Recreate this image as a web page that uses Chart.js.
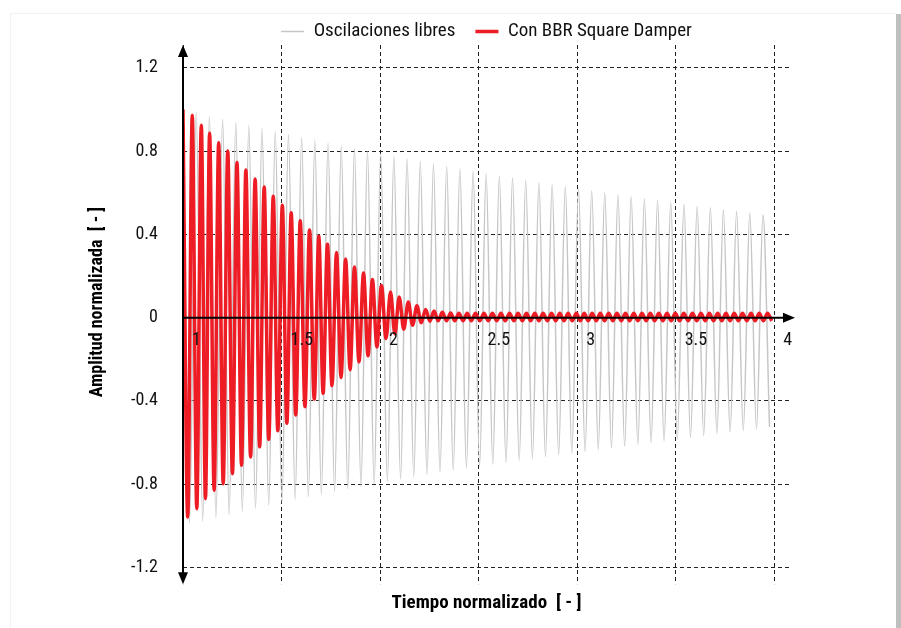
<!DOCTYPE html>
<html>
<head>
<meta charset="utf-8">
<script src="https://cdn.jsdelivr.net/npm/chart.js@4.4.0/dist/chart.umd.min.js"></script>
<style>
html, body { margin: 0; padding: 0; background: #fff; }
#wrap { position: relative; width: 901px; height: 628px; overflow: hidden; }
#frame { position: absolute; left: 10px; top: 13px; width: 885px; height: 640px; border-top: 1px solid #f2f2f2; border-left: 1px solid #f2f2f2; }
#shadow { position: absolute; left: 896px; top: 14px; width: 5px; height: 614px; background: #bfbfbf; }
canvas { position: absolute; left: 0; top: 0; }
</style>
</head>
<body>
<div id="wrap">
  <div id="frame"></div>
  <canvas id="chart" width="901" height="628"></canvas>
  <div id="shadow"></div>
</div>
<script>
// axis ticks
var xTicks = [1, 1.5, 2, 2.5, 3, 3.5, 4];
var yTicks = [-1.2, -0.8, -0.4, 0, 0.4, 0.8, 1.2];

// free oscillation: extremes (peak, trough, peak, ...)
var freeT = [1.000, 1.033, 1.067, 1.100, 1.134, 1.167, 1.201, 1.234, 1.268, 1.301,
  1.334, 1.368, 1.401, 1.435, 1.468, 1.502, 1.535, 1.569, 1.602, 1.636,
  1.669, 1.702, 1.736, 1.769, 1.803, 1.836, 1.870, 1.903, 1.936, 1.970,
  2.003, 2.037, 2.070, 2.104, 2.137, 2.171, 2.204, 2.238, 2.271, 2.304,
  2.338, 2.371, 2.405, 2.438, 2.472, 2.505, 2.538, 2.572, 2.605, 2.639,
  2.672, 2.706, 2.739, 2.773, 2.806, 2.839, 2.873, 2.906, 2.940, 2.973,
  3.007, 3.040, 3.074, 3.107, 3.140, 3.174, 3.207, 3.241, 3.274, 3.308,
  3.341, 3.375, 3.408, 3.441, 3.475, 3.508, 3.542, 3.575, 3.609, 3.642,
  3.676, 3.709, 3.742, 3.776, 3.809, 3.843, 3.876, 3.910, 3.943, 3.976];
var freeA = [1.000, -0.985, 0.984, -0.976, 0.968, -0.961, 0.953, -0.946, 0.938, -0.931,
  0.923, -0.916, 0.909, -0.901, 0.894, -0.887, 0.880, -0.873, 0.866, -0.860,
  0.852, -0.848, 0.839, -0.835, 0.825, -0.822, 0.812, -0.810, 0.799, -0.798,
  0.787, -0.786, 0.774, -0.775, 0.762, -0.764, 0.750, -0.753, 0.738, -0.742,
  0.726, -0.732, 0.715, -0.722, 0.703, -0.712, 0.692, -0.703, 0.681, -0.694,
  0.671, -0.685, 0.660, -0.676, 0.649, -0.667, 0.639, -0.658, 0.629, -0.650,
  0.619, -0.642, 0.609, -0.634, 0.600, -0.625, 0.590, -0.617, 0.581, -0.608,
  0.572, -0.600, 0.563, -0.591, 0.554, -0.582, 0.545, -0.573, 0.536, -0.565,
  0.528, -0.557, 0.519, -0.549, 0.511, -0.541, 0.503, -0.533, 0.495, -0.525];

// with damper: peaks and troughs
var dampPeakT = [1.000, 1.047, 1.093, 1.135, 1.181, 1.227, 1.274, 1.319, 1.366, 1.412,
  1.458, 1.504, 1.549, 1.595, 1.642, 1.689, 1.733, 1.779, 1.825, 1.870,
  1.916, 1.961, 2.007, 2.053, 2.097, 2.143, 2.187, 2.231, 2.274, 2.316,
  2.358, 2.400, 2.442, 2.484, 2.527, 2.570, 2.613, 2.657, 2.700, 2.743,
  2.785, 2.827, 2.870, 2.912, 2.954, 2.996, 3.036, 3.076, 3.117, 3.160,
  3.202, 3.245, 3.287, 3.329, 3.371, 3.414, 3.456, 3.498, 3.541, 3.585,
  3.628, 3.671, 3.713, 3.755, 3.797, 3.839, 3.882, 3.924, 3.966];
var dampPeakA = [1.000, 0.972, 0.925, 0.886, 0.841, 0.801, 0.745, 0.709, 0.666, 0.628,
  0.584, 0.540, 0.504, 0.466, 0.421, 0.391, 0.353, 0.313, 0.282, 0.244,
  0.215, 0.184, 0.155, 0.123, 0.099, 0.075, 0.057, 0.040, 0.032, 0.026,
  0.023, 0.022, 0.022, 0.022, 0.022, 0.022, 0.022, 0.022, 0.022, 0.022,
  0.022, 0.022, 0.022, 0.022, 0.022, 0.022, 0.022, 0.022, 0.022, 0.022,
  0.022, 0.022, 0.022, 0.022, 0.022, 0.022, 0.022, 0.022, 0.022, 0.022,
  0.022, 0.022, 0.022, 0.022, 0.022, 0.022, 0.022, 0.022, 0.022];
var dampTroughT = [1.024, 1.070, 1.114, 1.158, 1.204, 1.251, 1.297, 1.343, 1.389, 1.435,
  1.481, 1.527, 1.572, 1.619, 1.666, 1.711, 1.756, 1.802, 1.848, 1.893,
  1.939, 1.984, 2.030, 2.075, 2.120, 2.165, 2.209, 2.253, 2.295, 2.337,
  2.379, 2.421, 2.463, 2.506, 2.549, 2.592, 2.635, 2.679, 2.722, 2.764,
  2.806, 2.849, 2.891, 2.933, 2.975, 3.016, 3.056, 3.097, 3.139, 3.181,
  3.224, 3.266, 3.308, 3.350, 3.393, 3.435, 3.477, 3.520, 3.563, 3.607,
  3.650, 3.692, 3.734, 3.776, 3.818, 3.861, 3.903, 3.945, 3.987];
var dampTroughA = [-0.957, -0.917, -0.869, -0.829, -0.797, -0.749, -0.709, -0.669, -0.620, -0.585,
  -0.543, -0.507, -0.467, -0.427, -0.391, -0.363, -0.326, -0.287, -0.250, -0.213,
  -0.183, -0.140, -0.100, -0.078, -0.055, -0.036, -0.024, -0.017, -0.015, -0.015,
  -0.015, -0.015, -0.015, -0.015, -0.015, -0.015, -0.015, -0.015, -0.015, -0.015,
  -0.015, -0.015, -0.015, -0.015, -0.015, -0.015, -0.015, -0.015, -0.015, -0.015,
  -0.015, -0.015, -0.015, -0.015, -0.015, -0.015, -0.015, -0.015, -0.015, -0.015,
  -0.015, -0.015, -0.015, -0.015, -0.015, -0.015, -0.015, -0.015, -0.015];

var freeData = freeT.map(function (t, i) { return { x: t, y: freeA[i] }; });
var dampData = [];
for (var i = 0; i < dampPeakT.length; i++) {
  dampData.push({ x: dampPeakT[i], y: dampPeakA[i] });
  dampData.push({ x: dampTroughT[i], y: dampTroughA[i] });
}

var fam = '"Liberation Sans Narrow", "Roboto Condensed", "DejaVu Sans Condensed", "Liberation Sans", sans-serif';

// axis lines with arrow heads, drawn over the curves
var axisArrows = {
  id: 'axisArrows',
  afterDatasetsDraw: function (chart) {
    var c = chart.ctx, a = chart.chartArea;
    var x0 = chart.scales.x.getPixelForValue(1);
    var y0 = chart.scales.y.getPixelForValue(0);
    c.save();
    c.strokeStyle = '#000';
    c.fillStyle = '#000';
    c.lineWidth = 2;
    c.beginPath();
    c.moveTo(x0, a.bottom - 6);
    c.lineTo(x0, a.top + 6);
    c.moveTo(x0 - 1, y0);
    c.lineTo(a.right - 4, y0);
    c.stroke();
    c.beginPath();
    c.moveTo(x0, a.top); c.lineTo(x0 - 5, a.top + 12); c.lineTo(x0 + 5, a.top + 12); c.closePath();
    c.moveTo(x0, a.bottom); c.lineTo(x0 - 5, a.bottom - 12); c.lineTo(x0 + 5, a.bottom - 12); c.closePath();
    c.moveTo(a.right + 5, y0); c.lineTo(a.right - 7, y0 - 5); c.lineTo(a.right - 7, y0 + 5); c.closePath();
    c.fill();
    c.restore();
  }
};

var ctx = document.getElementById('chart').getContext('2d');
var chart = new Chart(ctx, {
  type: 'line',
  data: {
    datasets: [{
      label: 'Con BBR Square Damper',
      data: dampData,
      borderColor: '#ee1c24',
      backgroundColor: '#ee1c24',
      borderWidth: 3.5,
      pointRadius: 0,
      cubicInterpolationMode: 'monotone'
    }, {
      label: 'Oscilaciones libres',
      data: freeData,
      borderColor: '#c6c6c6',
      backgroundColor: '#c6c6c6',
      borderWidth: 1.5,
      pointRadius: 0,
      cubicInterpolationMode: 'monotone'
    }]
  },
  options: {
    responsive: false,
    animation: false,
    layout: { padding: { left: 0, right: 111, top: 2, bottom: 7 } },
    plugins: {
      legend: {
        position: 'top',
        fullSize: false,
        reverse: true,
        maxHeight: 43,
        labels: {
          usePointStyle: true,
          pointStyle: 'line',
          pointStyleWidth: 23,
          boxHeight: 19,
          padding: 20,
          color: '#111',
          font: { family: fam, size: 19 }
        }
      },
      title: {
        display: true,
        position: 'bottom',
        fullSize: false,
        text: 'Tiempo normalizado  [ - ]',
        color: '#000',
        font: { family: fam, size: 19, weight: 'bold' },
        padding: { top: 8, bottom: 6 }
      },
      tooltip: { enabled: false }
    },
    scales: {
      x: {
        type: 'linear',
        min: 1,
        max: 4.08,
        position: { y: 0 },
        afterBuildTicks: function (s) { s.ticks = xTicks.map(function (v) { return { value: v }; }); },
        grid: { color: '#222', lineWidth: 1, drawTicks: false },
        border: { display: false, dash: [4, 3] },
        ticks: {
          z: 1,
          align: 'start',
          labelOffset: 9,
          padding: 12,
          color: '#111',
          font: { family: fam, size: 18 },
          maxRotation: 0,
          callback: function (v) { return String(v); }
        }
      },
      y: {
        type: 'linear',
        min: -1.28,
        max: 1.31,
        position: 'left',
        afterBuildTicks: function (s) { s.ticks = yTicks.map(function (v) { return { value: v }; }); },
        afterFit: function (s) { s.width = 183; },
        grid: { color: '#222', lineWidth: 1, drawTicks: false },
        border: { display: false, dash: [4, 3] },
        ticks: {
          padding: 25,
          color: '#111',
          font: { family: fam, size: 18 },
          callback: function (v) { return String(v); }
        },
        title: {
          display: true,
          text: '      Amplitud normalizada  [ - ]',
          color: '#000',
          font: { family: fam, size: 18, weight: 'bold' },
          padding: { top: 87, bottom: 0 }
        }
      }
    }
  },
  plugins: [axisArrows]
});
</script>
</body>
</html>
